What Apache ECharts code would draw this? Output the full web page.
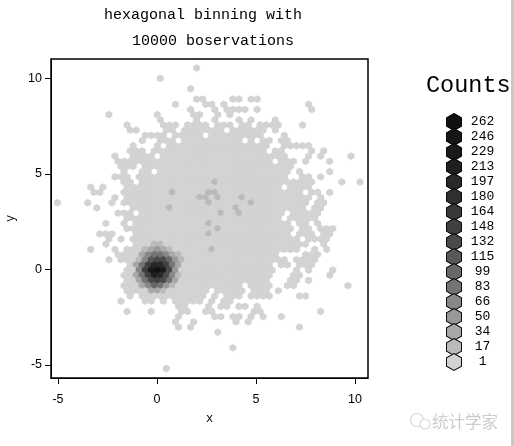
<!DOCTYPE html>
<html>
<head>
<meta charset="utf-8">
<script src="https://cdn.jsdelivr.net/npm/echarts@6/dist/echarts.min.js"></script>
<style>html,body{margin:0;background:#fff}#main{width:514px;height:446px}</style>
</head>
<body>
<div id="main"></div>
<script>
// hexagon lattice (data units)
var binX0 = 0.015, binY0 = -0.03, binDX = 0.3056, binDY = 0.2712;

// occupied columns per lattice row: number = one bin, [a, b] = run of bins
var rowIndex = [39, 37, 35, 33, 32, 31, 30, 29, 28, 27, 26, 25, 24, 23, 22, 21, 20, 19, 18, 17, 16, 15, 14, 13, 12, 11, 10,
    9, 8, 7, 6, 5, 4, 3, 2, 1, 0, -1, -2, -3, -4, -5, -6, -7, -8, -9, -10, -11, -12, -15, -19];
var rowBins = [
    [6], [0], [5],
    [6, 7, 12, 13, 15, 16],
    [3, 8, 9, 11, 25],
    [5, 9, [11, 14], 16, 25],
    [-8, 0, 6, 7, 10, 12],
    [0, 6, 9, 13, 15, 19],
    [-5, [1, 3], [5, 8], [10, 12], 14, 15, 17, 18, 19, 20, 24],
    [-5, -4, 1, 2, [4, 10], [12, 17], 19],
    [[-2, 1], [3, 7], [9, 17], 21],
    [-3, 0, 1, 2, [4, 13], 15, 17, 18, 20, 21],
    [-4, 0, [2, 18], [21, 25]],
    [-5, -4, -3, [-1, 17], 19, 20, 25, 27],
    [-7, [-4, -1], [1, 21], 25, 27, 32],
    [[-7, 18], 20, 21, 22, 24, 28],
    [-6, -5, -4, [-2, 22]],
    [-6, -3, -2, [0, 21], 23, 28],
    [-7, -6, -5, [-3, 21], 24, 25, 27],
    [-6, -5, [-3, 25], 30, 33],
    [-11, -9, [-5, 20], [22, 25]],
    [-11, -10, -6, [-5, 23], 25, 26, 28],
    [-7, [-5, 25], 27],
    [-17, -12, -8, [-6, 24], 26, 27],
    [-10, [-4, 24], 26, 27],
    [-7, -6, -5, [-3, 20], [22, 26]],
    [[-5, 20], [22, 26]],
    [-9, -6, [-4, 21], 23, 24, 26],
    [[-5, 22], 24, 25, 27, 28, 29],
    [-10, -9, -8, [-4, 21], 23, 24, 25, 27, 28],
    [-8, -6, [-4, 23], [25, 28]],
    [-9, [-4, 24], 27],
    [-11, -7, [-5, 23], 26, 28],
    [[-7, 19], 24, 25, 26],
    [-8, [-6, 21], [23, 26]],
    [[-5, 18], 20, 21, [23, 25]],
    [[-5, 19], 23, 25, 29],
    [[-6, 18], 22, 23, 28],
    [[-5, 18], 22, 23, 25],
    [[-6, 13], [15, 18], 21, 22, 31],
    [[-5, 8], [10, 14], [16, 18], 20],
    [-5, [-3, 7], 9, [11, 13], [15, 18], 23, 24],
    [-6, -2, -1, 1, [3, 7], 9, 11, 12],
    [3, 4, 8, 10, 11, 13, 14, 16],
    [-5, -1, 4, 5, 8, 9, 16, 17, 27],
    [3, 9, 10, 12, 13, 15, 17, 20],
    [3, 6, 13, 15],
    [3, 5, 23],
    [10], [12], [1]
];

// scattered bins a little darker than the base grey: [row, col, count]
var smallCounts = [[17, 9, 5], [15, 2, 5], [15, 8, 5], [15, 9, 5], [14, 7, 5], [14, 8, 5], [14, 10, 5], [14, 14, 5],
    [13, 8, 5], [13, 15, 5], [12, 2, 5], [12, 13, 5], [11, 10, 5], [11, 13, 5], [9, 8, 5], [8, 10, 5], [7, 8, 5], [4, 9, 5]];

// dense cluster near the origin: row, first col, counts
var clusterRow = [5, 4, 3, 2, 1, 0, -1, -2, -3, -4];
var clusterCol = [-1, -2, -3, -3, -4, -3, -4, -3, -3, -1];
var clusterCounts = [
    [17, 17],
    [17, 34, 50, 34, 17],
    [34, 66, 83, 83, 66, 34, 17],
    [17, 66, 115, 132, 132, 99, 50, 17],
    [34, 83, 148, 197, 197, 148, 83, 34],
    [66, 148, 229, 262, 229, 132, 50],
    [34, 83, 148, 213, 197, 132, 66, 17],
    [34, 83, 132, 148, 132, 83, 34],
    [34, 66, 99, 83, 50, 17],
    [34, 34, 17]
];

var legendCounts = [262, 246, 229, 213, 197, 180, 164, 148, 132, 115, 99, 83, 66, 50, 34, 17, 1];
var legendGreys = ['#111111', '#161616', '#1a1a1a', '#1f1f1f', '#282828', '#303030', '#383838', '#404040', '#4a4a4a',
    '#585858', '#686868', '#747474', '#888888', '#989898', '#a8a8a8', '#bababa', '#d3d3d3'];
var xTicks = [-5, 0, 5, 10];
var yTicks = [-5, 0, 5, 10];

function greyFor(n) {
    for (var i = legendCounts.length - 1; i >= 0; i--) {
        if (n <= legendCounts[i]) return legendGreys[i];
    }
    return legendGreys[0];
}
function binKey(r, c) { return r + '_' + c; }

var counts = {};
rowIndex.forEach(function (r, i) {
    rowBins[i].forEach(function (b) {
        var from = Array.isArray(b) ? b[0] : b;
        var to = Array.isArray(b) ? b[1] : b;
        for (var c = from; c <= to; c++) counts[binKey(r, c)] = 1;
    });
});
smallCounts.forEach(function (d) { counts[binKey(d[0], d[1])] = d[2]; });
clusterRow.forEach(function (r, i) {
    clusterCounts[i].forEach(function (n, k) { counts[binKey(r, clusterCol[i] + k)] = n; });
});

var binData = [];
Object.keys(counts).forEach(function (key) {
    var p = key.split('_').map(Number);
    var shift = Math.abs(p[0]) % 2 ? 0.5 : 0;
    binData.push({
        value: [binX0 + binDX * (p[1] + shift), binY0 + binDY * p[0], counts[key]],
        itemStyle: { color: greyFor(counts[key]), borderColor: greyFor(counts[key]) }
    });
});

var hexPath = 'path://M0,-2 L1.732,-1 L1.732,1 L0,2 L-1.732,1 L-1.732,-1 Z';
var mono = '"Liberation Mono", monospace';

var chart = echarts.init(document.getElementById('main'), null, { renderer: 'canvas' });
var option = {
    animation: false,
    backgroundColor: '#fff',
    title: [
        { text: 'hexagonal binning with', left: 104, top: 8, padding: 0, textStyle: { fontFamily: mono, fontSize: 15, fontWeight: 'normal', color: '#000' } },
        { text: '10000 boservations', left: 132, top: 34, padding: 0, textStyle: { fontFamily: mono, fontSize: 15, fontWeight: 'normal', color: '#000' } },
        { text: 'Counts', left: 426, top: 74, padding: 0, textStyle: { fontFamily: mono, fontSize: 23.5, fontWeight: 'normal', color: '#000' } }
    ],
    grid: [
        { left: 51, top: 59, width: 317, height: 319, outerBoundsMode: 'none', show: true, borderColor: '#000', borderWidth: 1.5, backgroundColor: '#fff' },
        { left: 444, top: 114.5, width: 20, height: 255, outerBoundsMode: 'none' }
    ],
    xAxis: [
        {
            type: 'value', min: -5.354, max: 10.657, name: 'x', nameLocation: 'middle', nameGap: 35,
            nameTextStyle: { fontFamily: mono, fontSize: 12, color: '#000' },
            splitLine: { show: false },
            axisLine: { onZero: false, lineStyle: { color: '#000' } },
            axisTick: { length: 6, customValues: xTicks, lineStyle: { color: '#000' } },
            axisLabel: { customValues: xTicks, margin: 15, fontFamily: 'Liberation Sans', fontSize: 12.5, color: '#000' }
        },
        { gridIndex: 1, type: 'value', min: 0, max: 1, show: false }
    ],
    yAxis: [
        {
            type: 'value', min: -5.68, max: 11.02, name: 'y', nameLocation: 'middle', nameGap: 30, nameRotate: 90,
            nameTextStyle: { fontFamily: mono, fontSize: 12, color: '#000' },
            splitLine: { show: false },
            axisLine: { onZero: false, lineStyle: { color: '#000' } },
            axisTick: { length: 6, customValues: yTicks, lineStyle: { color: '#000' } },
            axisLabel: { customValues: yTicks, margin: 9, fontFamily: 'Liberation Sans', fontSize: 12.5, color: '#000' }
        },
        { gridIndex: 1, type: 'category', inverse: true, data: legendCounts, show: false }
    ],
    series: [
        {
            type: 'scatter', silent: true, symbol: hexPath, symbolSize: [6.6, 7.3], data: binData,
            itemStyle: { opacity: 1, borderWidth: 0.3 }
        },
        {
            type: 'scatter', silent: true, xAxisIndex: 1, yAxisIndex: 1, symbol: hexPath, symbolSize: [15, 17],
            data: legendCounts.map(function (n, i) {
                return { value: [0.5, i], itemStyle: { color: legendGreys[i] } };
            }),
            itemStyle: { opacity: 1, borderColor: '#000', borderWidth: 1 },
            label: {
                show: true, position: [36.5, 8.5], align: 'center', verticalAlign: 'middle',
                fontFamily: mono, fontSize: 13, color: '#000',
                formatter: function (p) { return legendCounts[p.dataIndex]; }
            }
        }
    ],
    graphic: [
        { type: 'rect', silent: true, shape: { x: 511, y: 0, width: 3, height: 446 }, style: { fill: '#c8c8c8' } },
        { type: 'circle', silent: true, shape: { cx: 417, cy: 420, r: 6.5 }, style: { fill: 'none', stroke: '#d8d8d8', lineWidth: 1.2 } },
        { type: 'circle', silent: true, shape: { cx: 425, cy: 424, r: 5 }, style: { fill: '#fff', stroke: '#d8d8d8', lineWidth: 1.2 } },
        { type: 'text', silent: true, x: 432, y: 413, style: { text: '统计学家', fontFamily: '"Noto Sans CJK SC"', fontSize: 16.5, fill: '#cdcdcd' } }
    ]
};
chart.setOption(option);

window.addEventListener('resize', function () {
    chart.resize();
});
</script>
</body>
</html>
